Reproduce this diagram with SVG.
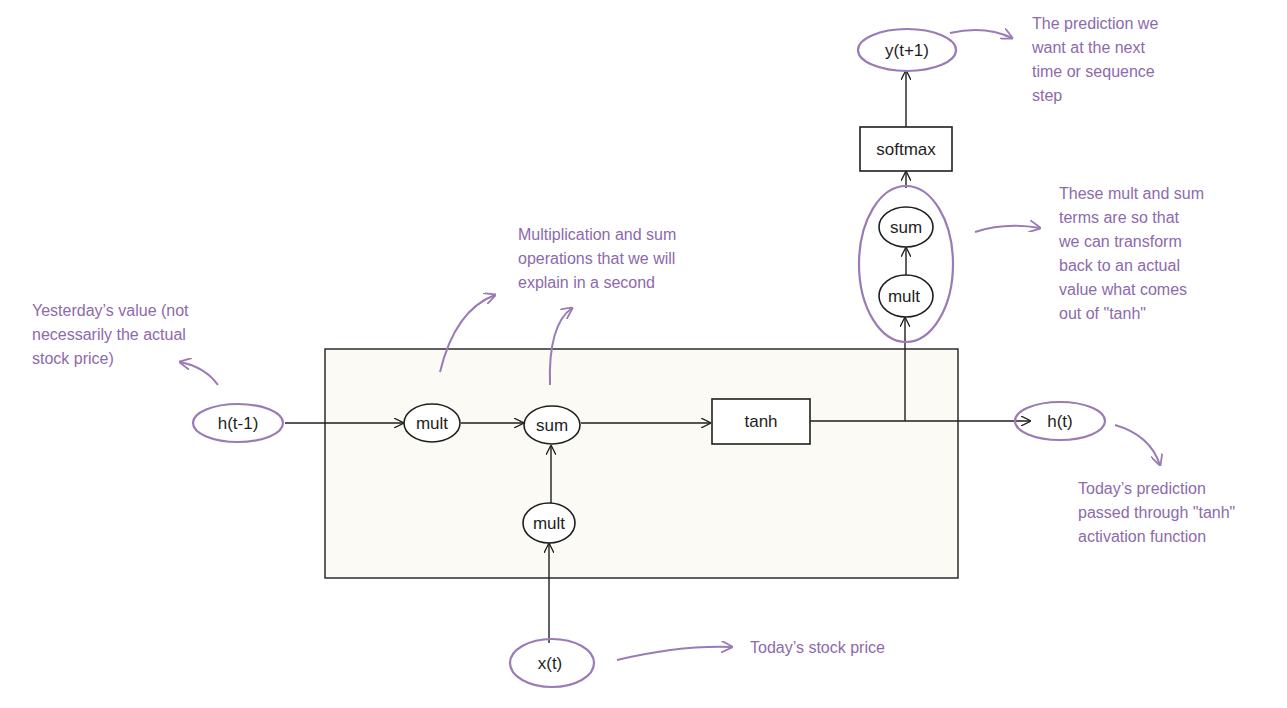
<svg xmlns="http://www.w3.org/2000/svg" width="1287" height="708" viewBox="0 0 1287 708">
<defs>
<marker id="a" viewBox="0 0 10 10" refX="9" refY="5" markerWidth="10" markerHeight="10" orient="auto" markerUnits="userSpaceOnUse"><path d="M0 0L10 5L0 10" fill="none" stroke="#1e1e1e" stroke-width="1.3"/></marker>
<marker id="p" viewBox="0 0 10 10" refX="9" refY="5" markerWidth="12" markerHeight="12" orient="auto" markerUnits="userSpaceOnUse"><path d="M0 0L10 5L0 10" fill="none" stroke="#9a7bb5" stroke-width="1.5"/></marker>
</defs>
<style>
.n{fill:#fff;stroke:#1e1e1e;stroke-width:1.6}
.pu{fill:none;stroke:#9a7bb5;stroke-width:2.2}
.t{font-family:"Liberation Sans",sans-serif;font-size:17px;fill:#1e1e1e;text-anchor:middle;dominant-baseline:central}
.an{font-family:"Liberation Sans",sans-serif;font-size:16px;fill:#8c6aac}
.c{fill:none;stroke:#1e1e1e;stroke-width:1.4;marker-end:url(#a)}
.pc{fill:none;stroke:#9a7bb5;stroke-width:2;marker-end:url(#p)}
</style>
<rect width="1287" height="708" fill="#fff"/>
<rect x="325" y="349" width="633" height="229" fill="#fbfaf4" stroke="#1e1e1e" stroke-width="1.4"/>
<g id="connectors">
<path class="c" d="M285 423H403"/>
<path class="c" d="M461 423H523"/>
<path class="c" d="M581 423H710"/>
<path class="c" d="M810 421H1030"/>
<path class="c" d="M905 421V318"/>
<path class="c" d="M551 503V446"/>
<path class="c" d="M549 643V544"/>
<path class="c" d="M906 276V248"/>
<path class="c" d="M906 188V172"/>
<path class="c" d="M906 127V71"/>
<path class="pc" d="M440 372Q455 310 495 295"/>
<path class="pc" d="M550 385Q548 325 572 308"/>
<path class="pc" d="M218 385Q205 367 180 362"/>
<path class="pc" d="M950 33Q985 25 1012 38"/>
<path class="pc" d="M975 232Q1005 222 1040 228"/>
<path class="pc" d="M1115 425Q1150 435 1160 465"/>
<path class="pc" d="M617 660Q680 645 732 647"/>
</g>
<g id="h_prev"><ellipse class="pu" cx="238" cy="423" rx="45" ry="19"/><text class="t" x="238" y="423">h(t-1)</text></g>
<g id="mult1"><ellipse class="n" cx="432" cy="423" rx="28" ry="19"/><text class="t" x="432" y="423">mult</text></g>
<g id="sum1"><ellipse class="n" cx="552" cy="425" rx="28" ry="19"/><text class="t" x="552" y="425">sum</text></g>
<g id="mult2"><ellipse class="n" cx="549" cy="523" rx="26" ry="20"/><text class="t" x="549" y="523">mult</text></g>
<g id="tanh"><rect class="n" x="712" y="399" width="98" height="45"/><text class="t" x="761" y="421">tanh</text></g>
<g id="h_t"><ellipse class="pu" cx="1060" cy="421" rx="45" ry="19"/><text class="t" x="1060" y="421">h(t)</text></g>
<g id="x_t"><ellipse class="pu" cx="552" cy="663" rx="42" ry="24"/><text class="t" x="550" y="663">x(t)</text></g>
<g id="group"><ellipse class="pu" cx="906" cy="264" rx="47" ry="78"/></g>
<g id="mult3"><ellipse class="n" cx="906" cy="296" rx="27" ry="21"/><text class="t" x="904" y="296">mult</text></g>
<g id="sum2"><ellipse class="n" cx="906" cy="227" rx="27" ry="20"/><text class="t" x="906" y="227">sum</text></g>
<g id="softmax"><rect class="n" x="860" y="127" width="92" height="44"/><text class="t" x="906" y="149">softmax</text></g>
<g id="y_next"><ellipse class="pu" cx="907" cy="50" rx="49" ry="21"/><text class="t" x="907" y="50">y(t+1)</text></g>
<g id="notes">
<text class="an" x="32" y="316">Yesterday’s value (not</text>
<text class="an" x="32" y="340">necessarily the actual</text>
<text class="an" x="32" y="364">stock price)</text>
<text class="an" x="518" y="240">Multiplication and sum</text>
<text class="an" x="518" y="264">operations that we will</text>
<text class="an" x="518" y="288">explain in a second</text>
<text class="an" x="1032" y="29">The prediction we</text>
<text class="an" x="1032" y="53">want at the next</text>
<text class="an" x="1032" y="77">time or sequence</text>
<text class="an" x="1032" y="101">step</text>
<text class="an" x="1059" y="199">These mult and sum</text>
<text class="an" x="1059" y="223">terms are so that</text>
<text class="an" x="1059" y="247">we can transform</text>
<text class="an" x="1059" y="271">back to an actual</text>
<text class="an" x="1059" y="295">value what comes</text>
<text class="an" x="1059" y="319">out of "tanh"</text>
<text class="an" x="1078" y="494">Today’s prediction</text>
<text class="an" x="1078" y="518">passed through "tanh"</text>
<text class="an" x="1078" y="542">activation function</text>
<text class="an" x="750" y="653">Today’s stock price</text>
</g>
</svg>
